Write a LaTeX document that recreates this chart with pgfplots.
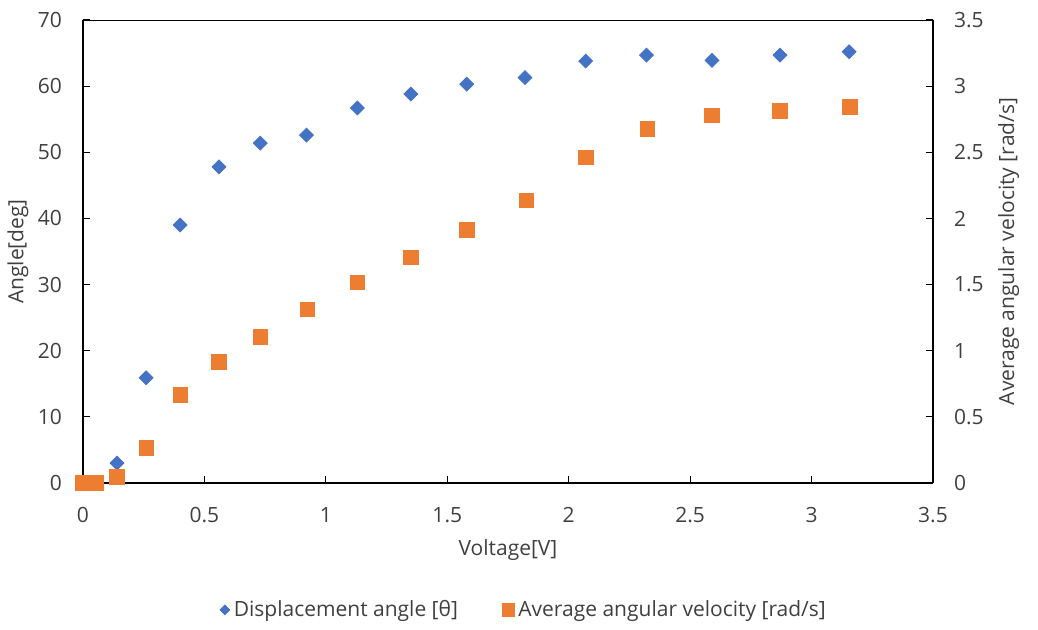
\documentclass[border=0pt]{standalone}
\usepackage{pgfplots}
\pgfplotsset{compat=1.18}
\usepackage{fontspec}
\setmainfont{Open Sans}
\definecolor{txt}{RGB}{64,64,64}
\definecolor{cblue}{RGB}{68,114,196}
\definecolor{corange}{RGB}{237,125,49}
\begin{document}
\begin{tikzpicture}[font=\fontsize{10.5}{12.6}\selectfont]
\path (-41.5pt,-73pt) rectangle (477.5pt,241.5pt);
\pgfplotsset{
  common/.style={
    width=425pt, height=231.5pt, scale only axis,
    xmin=0, xmax=3.5,
    /pgf/number format/assume math mode=true,
    tick align=inside,
    major tick length=3.5pt,
    tick style={black, line width=0.6pt},
    axis line style={black, line width=0.7pt},
    tick label style={text=txt},
    label style={text=txt},
  }
}
\begin{axis}[common,
  ymin=0, ymax=70,
  ytick={0,10,...,70},
  xtick={0,0.5,...,3.5},
  axis y line*=left,
  axis x line*=bottom,
  xticklabel shift=8.5pt,
  yticklabel shift=7pt,
  xlabel={Voltage[V]},
  ylabel={Angle[deg]},
  xlabel style={at={(axis description cs:0.5,-0.1447)}, anchor=center},
  ylabel style={at={(axis description cs:-0.0765,0.5)}, anchor=center},
]
\addplot[only marks, mark=square*, mark size=2.45pt, mark options={rotate=45, fill=cblue, draw=cblue}] coordinates {
(0,0) (0.05,0) (0.14,3.0) (0.26,15.9) (0.40,39.0) (0.56,47.8) (0.73,51.4) (0.92,52.6) (1.13,56.7) (1.35,58.8) (1.58,60.3) (1.82,61.3) (2.07,63.8) (2.32,64.7) (2.59,63.9) (2.87,64.7) (3.155,65.2)
};
\draw[black, line width=0.7pt] (rel axis cs:0,1) -- (rel axis cs:1,1);
\end{axis}
\begin{axis}[common,
  ymin=0, ymax=3.5,
  ytick={0,0.5,...,3.5},
  axis y line*=right,
  axis x line=none,
  yticklabel shift=7pt,
  ylabel={Average angular velocity [rad/s]},
  ylabel style={at={(axis description cs:1.089,0.5)}, anchor=center, rotate=0},
  legend columns=2,
  legend style={at={(axis description cs:0.52,-0.274)}, anchor=center, draw=none, text=txt,
    /tikz/every even column/.append style={column sep=20pt}, inner sep=0pt},
  legend cell align=left,
]
\addlegendimage{only marks, mark=square*, mark size=1.7pt, mark options={rotate=45, fill=cblue, draw=cblue}}
\addlegendentry{Displacement angle [θ]}
\addlegendimage{only marks, mark=square*, mark size=3.1pt, mark options={fill=corange, draw=corange}}
\addlegendentry{Average angular velocity [rad/s]}
\addplot[only marks, mark=square*, mark size=3.6pt, mark options={fill=corange, draw=corange}, forget plot] coordinates {
(0,0) (0.055,0) (0.14,0.045) (0.26,0.265) (0.40,0.667) (0.56,0.917) (0.73,1.106) (0.925,1.313) (1.13,1.517) (1.35,1.706) (1.58,1.912) (1.825,2.137) (2.07,2.462) (2.325,2.676) (2.59,2.78) (2.87,2.814) (3.157,2.842)
};
\end{axis}
\end{tikzpicture}
\end{document}
